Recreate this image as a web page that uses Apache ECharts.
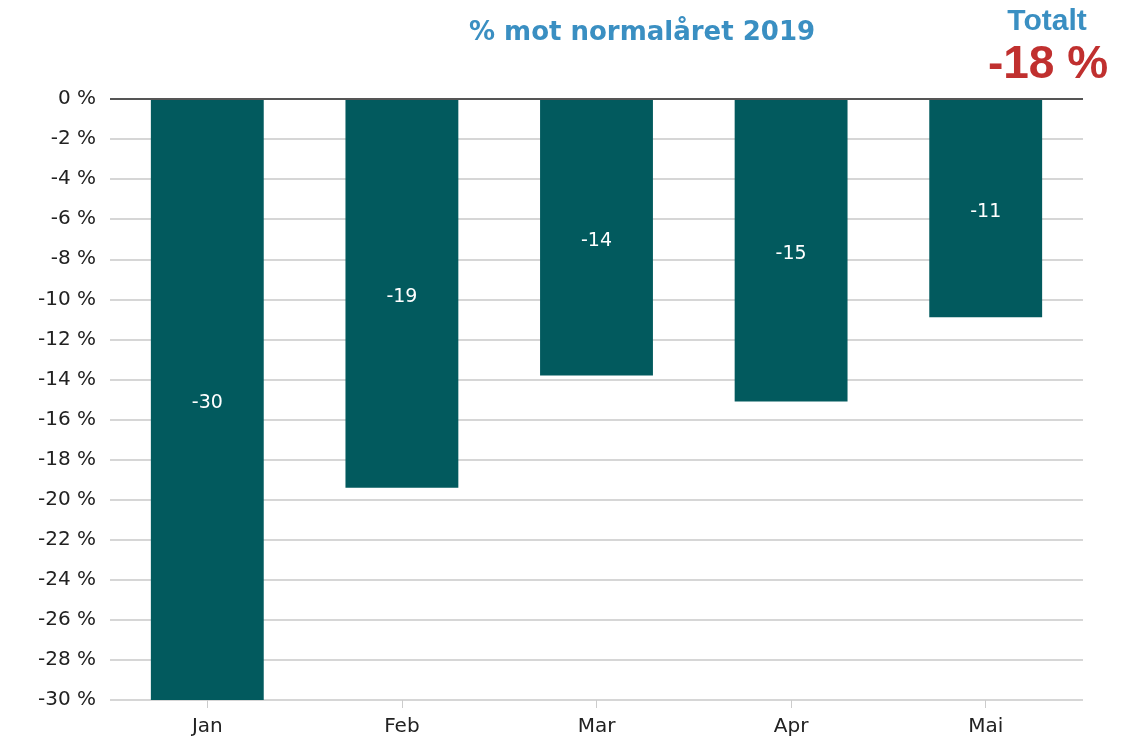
<!DOCTYPE html>
<html>
<head>
<meta charset="utf-8">
<script src="https://cdn.jsdelivr.net/npm/echarts@6/dist/echarts.min.js"></script>
<style>
  html, body { margin: 0; padding: 0; background: #fff; }
  #chart { width: 1135px; height: 746px; }
</style>
</head>
<body>
<div id="chart"></div>
<script>
// måneder og avvik mot normalåret
var months = ['Jan', 'Feb', 'Mar', 'Apr', 'Mai']
var deviation = [-30, -19.4, -13.8, -15.1, -10.9]
var totalText = '-18 %'

var myChart = echarts.init(document.getElementById('chart'))
myChart.setOption({
  animation: false,
  title: [{
    text: '% mot normalåret 2019',
    left: 637,
    top: 15,
    textAlign: 'center',
    textStyle: { fontFamily: 'DejaVu Sans', fontSize: 26, fontWeight: 'bold', color: '#3a8fc2' }
  }, {
    text: 'Totalt',
    left: 1042,
    top: 2,
    textAlign: 'center',
    textStyle: { fontFamily: 'Liberation Sans', fontSize: 30, fontWeight: 'bold', color: '#3a8fc2' }
  }, {
    text: totalText,
    left: 1043,
    top: 37,
    textAlign: 'center',
    textStyle: { fontFamily: 'Liberation Sans', fontSize: 46, fontWeight: 'bold', color: '#c0302f' }
  }],
  grid: {
    left: 110,
    right: 52,
    top: 99,
    bottom: 46
  },
  xAxis: {
    type: 'category',
    data: months,
    position: 'bottom',
    axisLine: { show: false, onZero: false },
    axisTick: { show: true, alignWithLabel: true, length: 8, lineStyle: { color: '#ccc' } },
    axisLabel: { fontFamily: 'DejaVu Sans', fontSize: 20, color: '#222', margin: 17 }
  },
  yAxis: {
    type: 'value',
    min: -30,
    max: 0,
    interval: 2,
    axisLine: { show: false },
    axisTick: { show: false },
    axisLabel: { fontFamily: 'DejaVu Sans', fontSize: 20, color: '#222', margin: 14, formatter: '{value} %' },
    splitLine: { lineStyle: { color: '#d6d6d6', width: 2 } }
  },
  series: [{
    type: 'bar',
    data: deviation,
    barWidth: '58%',
    itemStyle: { color: '#025a5e' },
    label: {
      show: true,
      position: 'inside',
      offset: [0, 4],
      color: '#fff',
      fontFamily: 'DejaVu Sans',
      fontSize: 19,
      formatter: function (p) { return Math.round(p.value) }
    },
    markLine: {
      silent: true,
      symbol: 'none',
      label: { show: false },
      lineStyle: { color: '#555', width: 2, type: 'solid' },
      data: [{ yAxis: 0 }]
    }
  }]
})
</script>
</body>
</html>
